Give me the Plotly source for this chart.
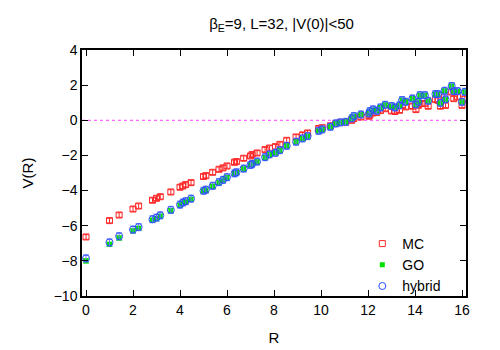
import plotly.graph_objects as go

title_text = "β<sub>E</sub>=9, L=32, |V(0)|&lt;50"
series_names = ["MC", "GO", "hybrid"]

# separations R (lattice units)
R = [0, 1.0, 1.41, 2.0, 2.24, 2.83, 3.0, 3.16, 3.61, 4.0, 4.12, 4.24, 4.47,
     5.0, 5.1, 5.39, 5.66, 5.83, 6.0, 6.32, 6.4, 6.71, 7.0, 7.07, 7.28, 7.62,
     7.81, 8.06, 8.25, 8.54, 8.94, 9.22, 9.43, 9.9, 10.05, 10.4, 10.63, 10.82,
     11.05, 11.31, 11.4, 11.7, 12.04, 12.08, 12.21, 12.37, 12.53, 12.73, 13.0,
     13.15, 13.34, 13.45, 13.6, 13.89, 14.04, 14.14, 14.21, 14.42, 14.56,
     14.87, 14.97, 15.08, 15.26, 15.3, 15.56, 15.65, 15.81, 16.0, 16.12]

V_mc = [-6.64, -5.71, -5.39, -5.05, -4.88, -4.55, -4.44, -4.35, -4.08, -3.81,
        -3.74, -3.66, -3.55, -3.20, -3.15, -2.96, -2.79, -2.71, -2.60, -2.39,
        -2.35, -2.16, -2.03, -1.95, -1.86, -1.67, -1.58, -1.50, -1.37, -1.14,
        -0.95, -0.83, -0.72, -0.47, -0.42, -0.31, -0.18, -0.12, -0.13, 0.0,
        0.10, 0.19, 0.23, 0.30, 0.42, 0.44, 0.55, 0.66, 0.53, 0.50, 0.57, 0.85,
        0.76, 0.80, 0.61, 0.85, 0.95, 0.95, 0.80, 1.18, 1.14, 0.80, 1.33, 0.85,
        1.61, 1.23, 1.33, 0.85, 1.23]

V_go = [-8.00, -7.06, -6.70, -6.30, -6.15, -5.69, -5.60, -5.46, -5.14, -4.84,
        -4.72, -4.65, -4.50, -4.04, -3.98, -3.76, -3.55, -3.41, -3.26, -3.04,
        -2.98, -2.77, -2.56, -2.50, -2.37, -2.12, -1.95, -1.86, -1.71, -1.46,
        -1.23, -1.04, -0.91, -0.61, -0.53, -0.38, -0.19, -0.13, -0.10, 0.10,
        0.23, 0.32, 0.38, 0.51, 0.61, 0.53, 0.72, 0.87, 0.80, 0.72, 0.84, 1.14,
        1.04, 1.23, 0.89, 1.04, 1.42, 1.42, 1.10, 1.48, 1.48, 0.98, 1.67, 1.18,
        1.94, 1.65, 1.65, 1.04, 1.61]

V_hybrid = [-7.86, -6.95, -6.60, -6.22, -6.08, -5.63, -5.54, -5.41, -5.10,
            -4.80, -4.68, -4.61, -4.46, -4.01, -3.95, -3.73, -3.52, -3.39,
            -3.24, -3.02, -2.96, -2.75, -2.54, -2.48, -2.35, -2.10, -1.94,
            -1.85, -1.70, -1.45, -1.22, -1.03, -0.90, -0.60, -0.52, -0.37,
            -0.18, -0.12, -0.09, 0.11, 0.24, 0.33, 0.39, 0.52, 0.62, 0.54, 0.73,
            0.88, 0.81, 0.73, 0.85, 1.15, 1.05, 1.24, 0.90, 1.05, 1.43, 1.43,
            1.11, 1.49, 1.49, 0.99, 1.68, 1.19, 1.95, 1.66, 1.66, 1.05, 1.62]

err_mc = 0.13
err_go = 0.12
err_hybrid = 0.2

x_ticks = [0, 2, 4, 6, 8, 10, 12, 14, 16]
y_ticks = [4, 2, 0, -2, -4, -6, -8, -10]

font_family = "Liberation Sans, Arial, sans-serif"

fig = go.Figure()

fig.add_trace(go.Scatter(
    x=R, y=V_mc, mode="markers", name=series_names[0],
    marker=dict(symbol="square-open", size=6, color="#ff2828", line=dict(width=1)),
    error_y=dict(type="constant", value=err_mc, color="#ff2828", thickness=1, width=3),
))
fig.add_trace(go.Scatter(
    x=R, y=V_go, mode="markers", name=series_names[1],
    marker=dict(symbol="square", size=5, color="#00e000"),
    error_y=dict(type="constant", value=err_go, color="#00e000", thickness=1, width=3),
))
fig.add_trace(go.Scatter(
    x=R, y=V_hybrid, mode="markers", name=series_names[2],
    marker=dict(symbol="circle-open", size=7, color="#2a4cff", line=dict(width=1)),
    error_y=dict(type="constant", value=err_hybrid, color="#6a80ff", thickness=1, width=3),
))

fig.add_hline(y=0, line=dict(color="#ff40ff", width=1, dash="dot"), layer="below")

axis_common = dict(
    showline=True, linecolor="black", linewidth=1.5, mirror="ticks",
    ticks="inside", ticklen=6, tickcolor="black", tickwidth=1,
    showgrid=False, zeroline=False, automargin=False,
    tickfont=dict(size=14, color="black"),
    title_font=dict(size=15, color="black"),
)

# page body has an 8px default margin, so the figure is shrunk by that much
fig.update_layout(
    width=492, height=342,
    margin=dict(l=74, r=34, t=42, b=54),
    paper_bgcolor="white", plot_bgcolor="white",
    font=dict(family=font_family, size=14, color="black"),
    title=dict(text=title_text, x=0.556, xanchor="center", y=0.955, yanchor="middle",
               font=dict(size=15)),
    xaxis=dict(axis_common, range=[-0.17, 16.17], tickvals=x_ticks,
               title=dict(text="R", standoff=16)),
    yaxis=dict(axis_common, range=[-10, 4], tickvals=y_ticks,
               title=dict(text="V(R)", standoff=16)),
    legend=dict(x=0.73, y=0.126, xanchor="left", yanchor="middle",
                bgcolor="rgba(0,0,0,0)", font=dict(size=14),
                itemwidth=30, tracegroupgap=0),
    showlegend=True,
)

fig.write_html("out.html")
